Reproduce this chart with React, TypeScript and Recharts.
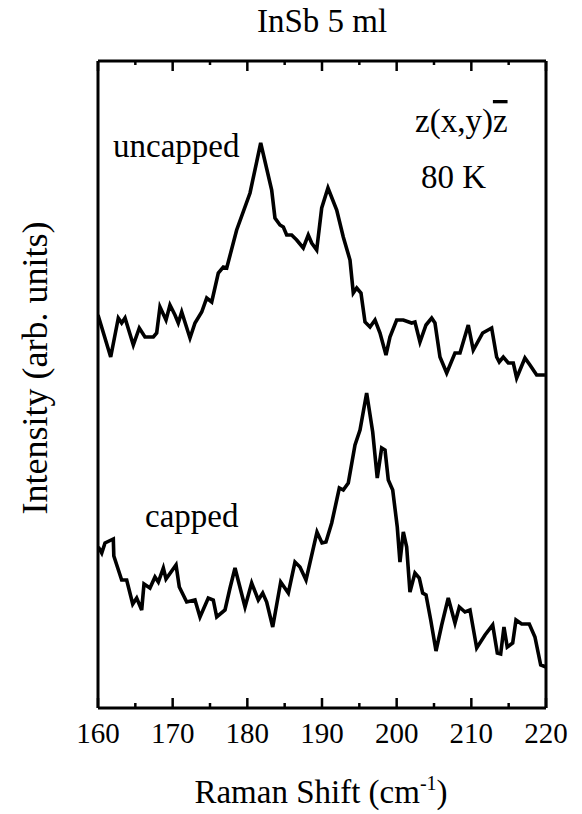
import { Line, LineChart, XAxis, YAxis } from "recharts";

const uncappedShift = [
  160.0, 161.7, 162.72, 163.17, 163.62, 164.73, 165.53, 166.29, 167.41, 167.86,
  168.3, 169.11, 169.64, 170.31, 170.75, 171.21, 172.32, 172.99, 173.89, 174.56,
  175.23, 176.11, 176.78, 177.24, 178.57, 180.36, 181.79, 183.26, 183.7, 184.37,
  184.82, 185.27, 185.94, 186.61, 187.49, 188.16, 188.62, 189.29, 189.96, 190.8,
  191.97, 192.85, 193.75, 194.19, 194.65, 195.22, 195.76, 196.43, 197.1, 197.77,
  198.57, 199.1, 200.0, 200.89, 202.01, 202.45, 203.12, 203.93, 204.69, 205.13,
  205.8, 206.7, 207.81, 208.48, 209.59, 210.26, 211.52, 212.72, 213.39, 213.74,
  214.28, 214.95, 215.62, 216.07, 217.18, 217.85, 218.75, 219.86,
];
const uncappedIntensity = [
  393, 351, 390, 385, 390, 363, 380, 371, 371, 375,
  401, 388, 403, 393, 385, 396, 370, 385, 396, 410,
  406, 435, 441, 440, 478, 515, 565, 518, 490, 483,
  481, 473, 473, 468, 460, 473, 465, 458, 500, 520,
  498, 471, 448, 415, 420, 415, 386, 381, 388, 375,
  353, 371, 388, 388, 385, 386, 366, 383, 390, 385,
  351, 335, 355, 355, 383, 358, 375, 380, 351, 346,
  351, 345, 345, 330, 350, 343, 333, 333,
];

const cappedShift = [
  160.04, 160.5, 160.94, 162.05, 162.12, 163.17, 163.84, 164.65, 165.18, 165.85,
  166.16, 166.96, 167.63, 168.08, 168.75, 169.11, 170.45, 170.89, 171.88, 172.99,
  173.66, 174.77, 175.44, 175.9, 177.01, 177.68, 178.35, 179.69, 180.58, 181.47,
  182.06, 182.59, 183.4, 184.47, 185.49, 186.38, 187.05, 187.86, 189.33, 190.0,
  190.53, 191.3, 192.32, 192.85, 193.52, 194.42, 195.09, 195.98, 196.79, 197.4,
  197.99, 198.44, 198.88, 199.47, 200.08, 200.44, 200.89, 201.34, 201.78, 202.45,
  203.03, 203.48, 203.93, 204.56, 205.27, 206.03, 206.91, 207.81, 208.39, 209.15,
  209.82, 210.72, 211.83, 212.86, 213.48, 213.93, 214.37, 214.81, 215.54, 215.98,
  216.74, 217.76, 218.52, 219.29, 220.0,
];
const cappedIntensity = [
  161, 155, 165, 169, 152, 128, 128, 104, 110, 98,
  124, 120, 131, 126, 140, 129, 143, 121, 106, 108,
  91, 110, 108, 91, 98, 120, 140, 101, 125, 108,
  115, 106, 81, 126, 115, 146, 141, 128, 176, 165,
  166, 185, 220, 218, 225, 263, 278, 315, 276, 230,
  260, 258, 228, 218, 181, 146, 176, 161, 116, 135,
  130, 115, 113, 88, 57, 83, 110, 85, 101, 96,
  98, 60, 73, 83, 55, 54, 81, 61, 65, 88,
  84, 84, 71, 43, 41,
];

const xTicks = [160, 165, 170, 175, 180, 185, 190, 195, 200, 205, 210, 215, 220];

const uncappedData = uncappedShift.map((x, i) => ({ x, y: uncappedIntensity[i] }));
const cappedData = cappedShift.map((x, i) => ({ x, y: cappedIntensity[i] }));

const FONT = '"Liberation Serif", "Times New Roman", serif';
const frame = { stroke: "#000", strokeWidth: 3 };

function BottomTick(props: any) {
  const { x, y, payload } = props;
  const major = payload.value % 10 === 0;
  return (
    <g>
      <line x1={x} x2={x} y1={y} y2={y - (major ? 10 : 5)} stroke="#000" strokeWidth={2.5} />
      {major && (
        <text x={x} y={y + 35} textAnchor="middle" fontFamily={FONT} fontSize={29} fill="#000">
          {payload.value}
        </text>
      )}
    </g>
  );
}

function TopTick(props: any) {
  const { x, y, payload } = props;
  const major = payload.value % 10 === 0;
  return <line x1={x} x2={x} y1={y} y2={y + (major ? 10 : 4)} stroke="#000" strokeWidth={2.5} />;
}

export default function App() {
  return (
    <div style={{ position: "absolute", left: 0, top: 0, width: 582, height: 814, background: "#fff" }}>
      <LineChart width={582} height={814} margin={{ top: 60, right: 35, bottom: 0, left: 97 }}>
        <XAxis
          xAxisId="bottom"
          type="number"
          dataKey="x"
          domain={[160, 220]}
          ticks={xTicks}
          interval={0}
          allowDataOverflow
          height={106}
          tickSize={0}
          tickMargin={0}
          tickLine={false}
          axisLine={frame}
          tick={<BottomTick />}
        />
        <XAxis
          xAxisId="top"
          orientation="top"
          type="number"
          dataKey="x"
          domain={[160, 220]}
          ticks={xTicks}
          interval={0}
          allowDataOverflow
          height={1}
          tickSize={0}
          tickMargin={0}
          tickLine={false}
          axisLine={frame}
          tick={<TopTick />}
        />
        <YAxis yAxisId="left" type="number" domain={[0, 647]} width={1} tick={false} tickLine={false} axisLine={frame} />
        <YAxis
          yAxisId="right"
          orientation="right"
          type="number"
          domain={[0, 647]}
          width={1}
          tick={false}
          tickLine={false}
          axisLine={frame}
        />
        <Line
          xAxisId="bottom"
          yAxisId="left"
          data={uncappedData}
          dataKey="y"
          type="linear"
          stroke="#000"
          strokeWidth={3.6}
          dot={false}
          isAnimationActive={false}
        />
        <Line
          xAxisId="bottom"
          yAxisId="left"
          data={cappedData}
          dataKey="y"
          type="linear"
          stroke="#000"
          strokeWidth={3.6}
          dot={false}
          isAnimationActive={false}
        />
      </LineChart>
      <svg
        width={582}
        height={814}
        style={{ position: "absolute", left: 0, top: 0, pointerEvents: "none" }}
        fontFamily={FONT}
        fill="#000"
      >
        <text x={322} y={32} textAnchor="middle" fontSize={33}>
          InSb 5 ml
        </text>
        <text x={113} y={157} fontSize={33}>
          uncapped
        </text>
        <text x={415} y={132} fontSize={33}>
          z(x,y)<tspan style={{ textDecoration: "overline" }}>z</tspan>
        </text>
        <text x={421} y={188} fontSize={33}>
          80 K
        </text>
        <text x={145} y={527} fontSize={33}>
          capped
        </text>
        <text x={321} y={803} textAnchor="middle" fontSize={33}>
          Raman Shift (cm
          <tspan dy={-13} fontSize={20}>
            -1
          </tspan>
          <tspan dy={13}>)</tspan>
        </text>
        <text x={47} y={368} textAnchor="middle" fontSize={36} transform="rotate(-90 47 368)">
          Intensity (arb. units)
        </text>
      </svg>
    </div>
  );
}
